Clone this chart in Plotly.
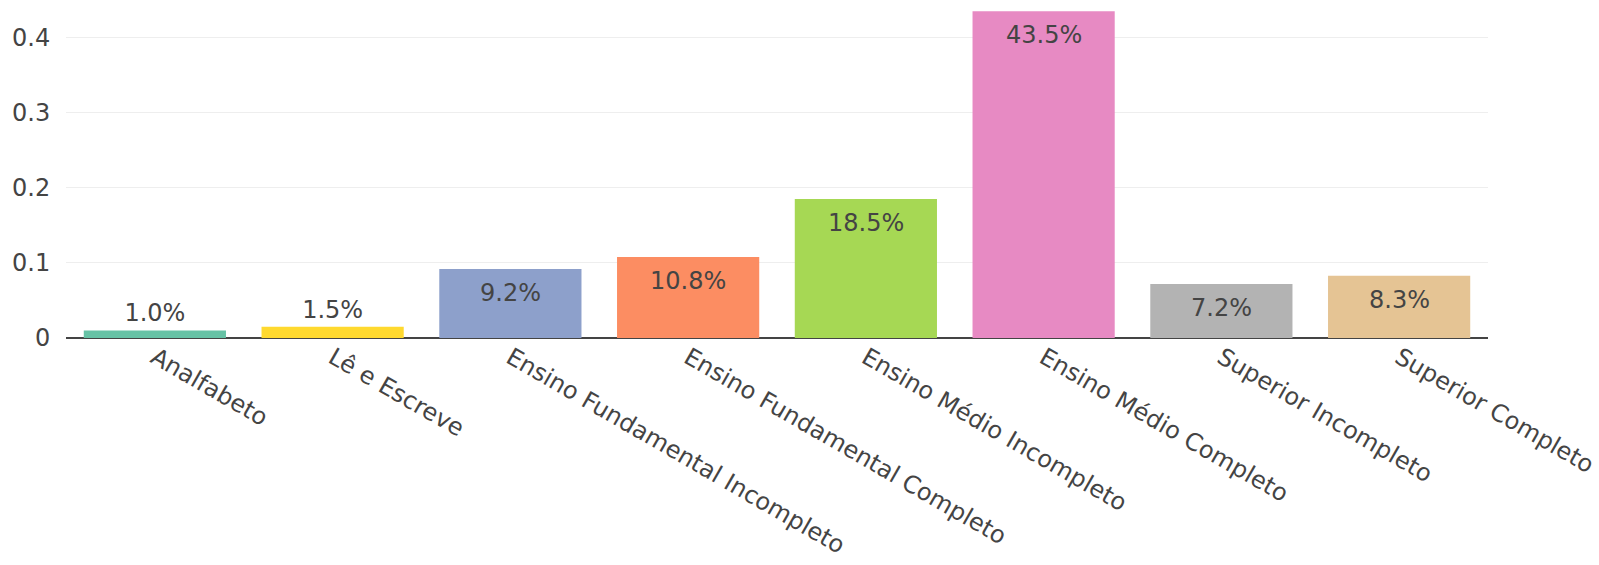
import plotly.graph_objects as go

categories = ["Analfabeto", "Lê e Escreve", "Ensino Fundamental Incompleto",
              "Ensino Fundamental Completo", "Ensino Médio Incompleto",
              "Ensino Médio Completo", "Superior Incompleto", "Superior Completo"]
values = [0.010, 0.015, 0.092, 0.108, 0.185, 0.435, 0.072, 0.083]
colors = ["#66c2a5", "#ffd92f", "#8da0cb", "#fc8d62", "#a6d854", "#e78ac3", "#b3b3b3", "#e5c494"]

FONT = "Verdana, DejaVu Sans, sans-serif"
FS = 24
INSIDE_MIN = 0.05  # bars taller than this hold their label inside

labels = [f"{v:.1%}" for v in values]
bar_text = [("" if v > INSIDE_MIN else t) for v, t in zip(values, labels)]

fig = go.Figure(go.Bar(
    x=categories,
    y=values,
    marker=dict(color=colors, line=dict(width=0)),
    text=bar_text,
    textposition="outside",
    textfont=dict(family=FONT, size=FS, color="#444"),
    cliponaxis=False,
    hoverinfo="x+y",
))

for c, v, t in zip(categories, values, labels):
    if v > INSIDE_MIN:
        fig.add_annotation(x=c, y=v, text=t, showarrow=False, yanchor="top",
                           yshift=-8, font=dict(family=FONT, size=FS, color="#444"))

fig.update_layout(
    width=1599, height=565,
    margin=dict(l=66, r=108, t=0, b=227),
    plot_bgcolor="white", paper_bgcolor="white",
    font=dict(family=FONT, size=FS, color="#444"),
    bargap=0.2,
    showlegend=False,
    xaxis=dict(tickangle=30, showgrid=False, tickfont=dict(size=FS)),
    yaxis=dict(range=[0, 0.45], dtick=0.1, gridcolor="#eee", zeroline=True,
               zerolinecolor="#444", zerolinewidth=2, tickfont=dict(size=FS),
               ticks="outside", ticklen=10, tickcolor="rgba(0,0,0,0)"),
)

fig.write_html("out.html", config={"displayModeBar": False},
               post_script="document.body.style.margin='0';")
